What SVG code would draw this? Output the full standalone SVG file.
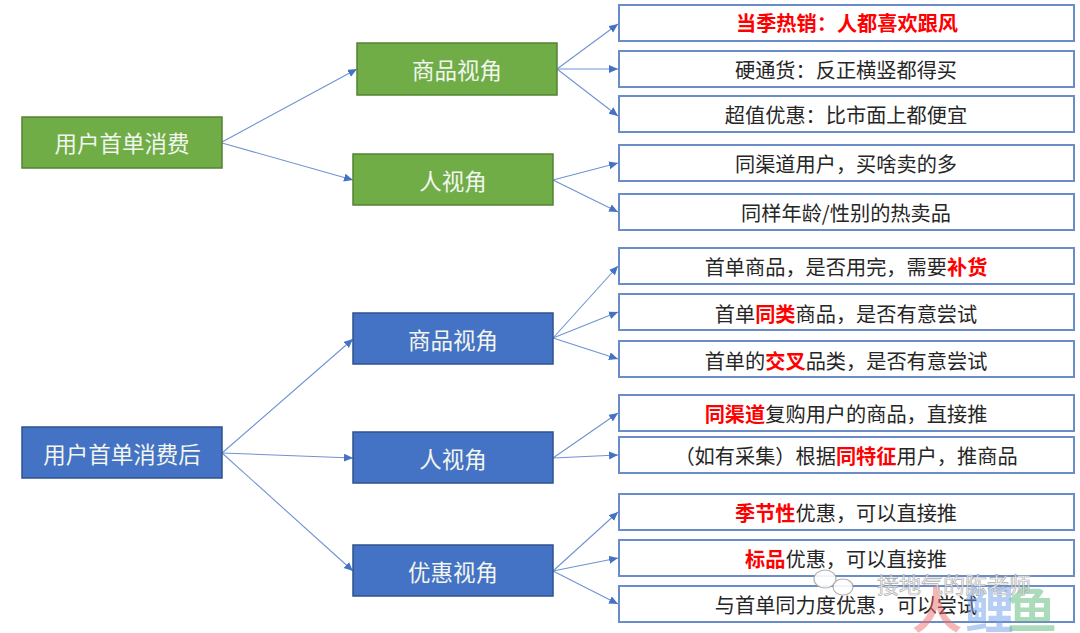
<svg xmlns="http://www.w3.org/2000/svg" width="1080" height="633" viewBox="0 0 1080 633">
<style>
text{font-family:"Noto Sans CJK SC","Liberation Sans",sans-serif;text-anchor:middle;dominant-baseline:central}
.g{fill:#70ad47;stroke:#548235;stroke-width:1.5}
.b{fill:#4472c4;stroke:#2f528f;stroke-width:1.5}
.w{fill:#fff;stroke:#6a8cc8;stroke-width:2}
.t{font-size:22.5px;fill:#f2f6ee}
.s{font-size:20.2px;fill:#262626}
.r{fill:#f00;font-weight:700}
.c line{stroke:#6f93d2;stroke-width:1.1;marker-end:url(#a)}
.m{font-size:22px;fill:#fff;stroke:#9a9a9a;stroke-width:.7;opacity:.8}
.k{font-size:50px;font-weight:700;opacity:.5}
</style>
<defs><marker id="a" markerUnits="userSpaceOnUse" markerWidth="10" markerHeight="10" refX="9" refY="4" orient="auto"><path d="M0 0L9 4L0 8Z" fill="#4472c4"/></marker></defs>
<rect width="1080" height="633" fill="#fff"/>
<g class="c" id="connectors">
<line x1="222" y1="142" x2="357" y2="69"/><line x1="222" y1="143" x2="353" y2="180"/>
<line x1="557" y1="69" x2="618" y2="24"/><line x1="557" y1="69" x2="618" y2="69"/><line x1="557" y1="69" x2="618" y2="116"/>
<line x1="553" y1="180" x2="618" y2="163"/><line x1="553" y1="180" x2="618" y2="212"/>
<line x1="222" y1="453" x2="353" y2="339"/><line x1="222" y1="453" x2="353" y2="458"/><line x1="222" y1="453" x2="353" y2="571"/>
<line x1="553" y1="338" x2="618" y2="266"/><line x1="553" y1="338" x2="618" y2="312"/><line x1="553" y1="338" x2="618" y2="359"/>
<line x1="553" y1="458" x2="618" y2="413"/><line x1="553" y1="458" x2="618" y2="455"/>
<line x1="553" y1="571" x2="618" y2="512"/><line x1="553" y1="571" x2="618" y2="558"/><line x1="553" y1="571" x2="618" y2="604"/>
</g>
<g id="n1"><rect class="g" x="22" y="117" width="200" height="51"/><text class="t" x="122" y="142">用户首单消费</text></g>
<g id="n2"><rect class="g" x="357" y="43" width="200" height="52"/><text class="t" x="457" y="69">商品视角</text></g>
<g id="n3"><rect class="g" x="353" y="154" width="200" height="51"/><text class="t" x="453" y="180">人视角</text></g>
<g id="n4"><rect class="b" x="22" y="427" width="200" height="51"/><text class="t" x="122" y="453">用户首单消费后</text></g>
<g id="n5"><rect class="b" x="353" y="313" width="200" height="51"/><text class="t" x="453" y="339">商品视角</text></g>
<g id="n6"><rect class="b" x="353" y="432" width="200" height="51"/><text class="t" x="453" y="458">人视角</text></g>
<g id="n7"><rect class="b" x="353" y="545" width="200" height="51"/><text class="t" x="453" y="571">优惠视角</text></g>
<g id="r1"><rect class="w" x="619" y="5" width="455" height="36"/><text class="s r" x="847" y="22">当季热销：人都喜欢跟风</text></g>
<g id="r2"><rect class="w" x="619" y="51" width="455" height="36"/><text class="s" x="846" y="69">硬通货：反正横竖都得买</text></g>
<g id="r3"><rect class="w" x="619" y="96" width="455" height="36"/><text class="s" x="846" y="114">超值优惠：比市面上都便宜</text></g>
<g id="r4"><rect class="w" x="619" y="145" width="455" height="36"/><text class="s" x="846" y="163">同渠道用户，买啥卖的多</text></g>
<g id="r5"><rect class="w" x="619" y="194" width="455" height="36"/><text class="s" x="846" y="212">同样年龄/性别的热卖品</text></g>
<g id="r6"><rect class="w" x="619" y="248" width="455" height="36"/><text class="s" x="846" y="266">首单商品，是否用完，需要<tspan class="r">补货</tspan></text></g>
<g id="r7"><rect class="w" x="619" y="294" width="455" height="36"/><text class="s" x="846" y="313">首单<tspan class="r">同类</tspan>商品，是否有意尝试</text></g>
<g id="r8"><rect class="w" x="619" y="341" width="455" height="36"/><text class="s" x="846" y="360">首单的<tspan class="r">交叉</tspan>品类，是否有意尝试</text></g>
<g id="r9"><rect class="w" x="619" y="395" width="455" height="36"/><text class="s" x="846" y="413"><tspan class="r">同渠道</tspan>复购用户的商品，直接推</text></g>
<g id="r10"><rect class="w" x="619" y="437" width="455" height="36"/><text class="s" x="846" y="455">（如有采集）根据<tspan class="r">同特征</tspan>用户，推商品</text></g>
<g id="r11"><rect class="w" x="619" y="494" width="455" height="36"/><text class="s" x="846" y="512"><tspan class="r">季节性</tspan>优惠，可以直接推</text></g>
<g id="r12"><rect class="w" x="619" y="540" width="455" height="36"/><text class="s" x="846" y="558"><tspan class="r">标品</tspan>优惠，可以直接推</text></g>
<g id="r13"><rect class="w" x="619" y="586" width="455" height="36"/><text class="s" x="846" y="604">与首单同力度优惠，可以尝试</text></g>
<text class="k" x="937" y="606" fill="#f07070">人</text>
<text class="k" x="989" y="606" fill="#6f9fe8">鲤</text>
<text class="k" x="1032" y="606" fill="#5cb87a">鱼</text>
<g fill="#fff" stroke="#aaa" stroke-width="1.2" opacity=".9"><ellipse cx="825" cy="579" rx="11" ry="9"/><ellipse cx="843" cy="587" rx="10" ry="8"/></g>
<text class="m" x="954" y="583">接地气的陈老师</text>
</svg>
